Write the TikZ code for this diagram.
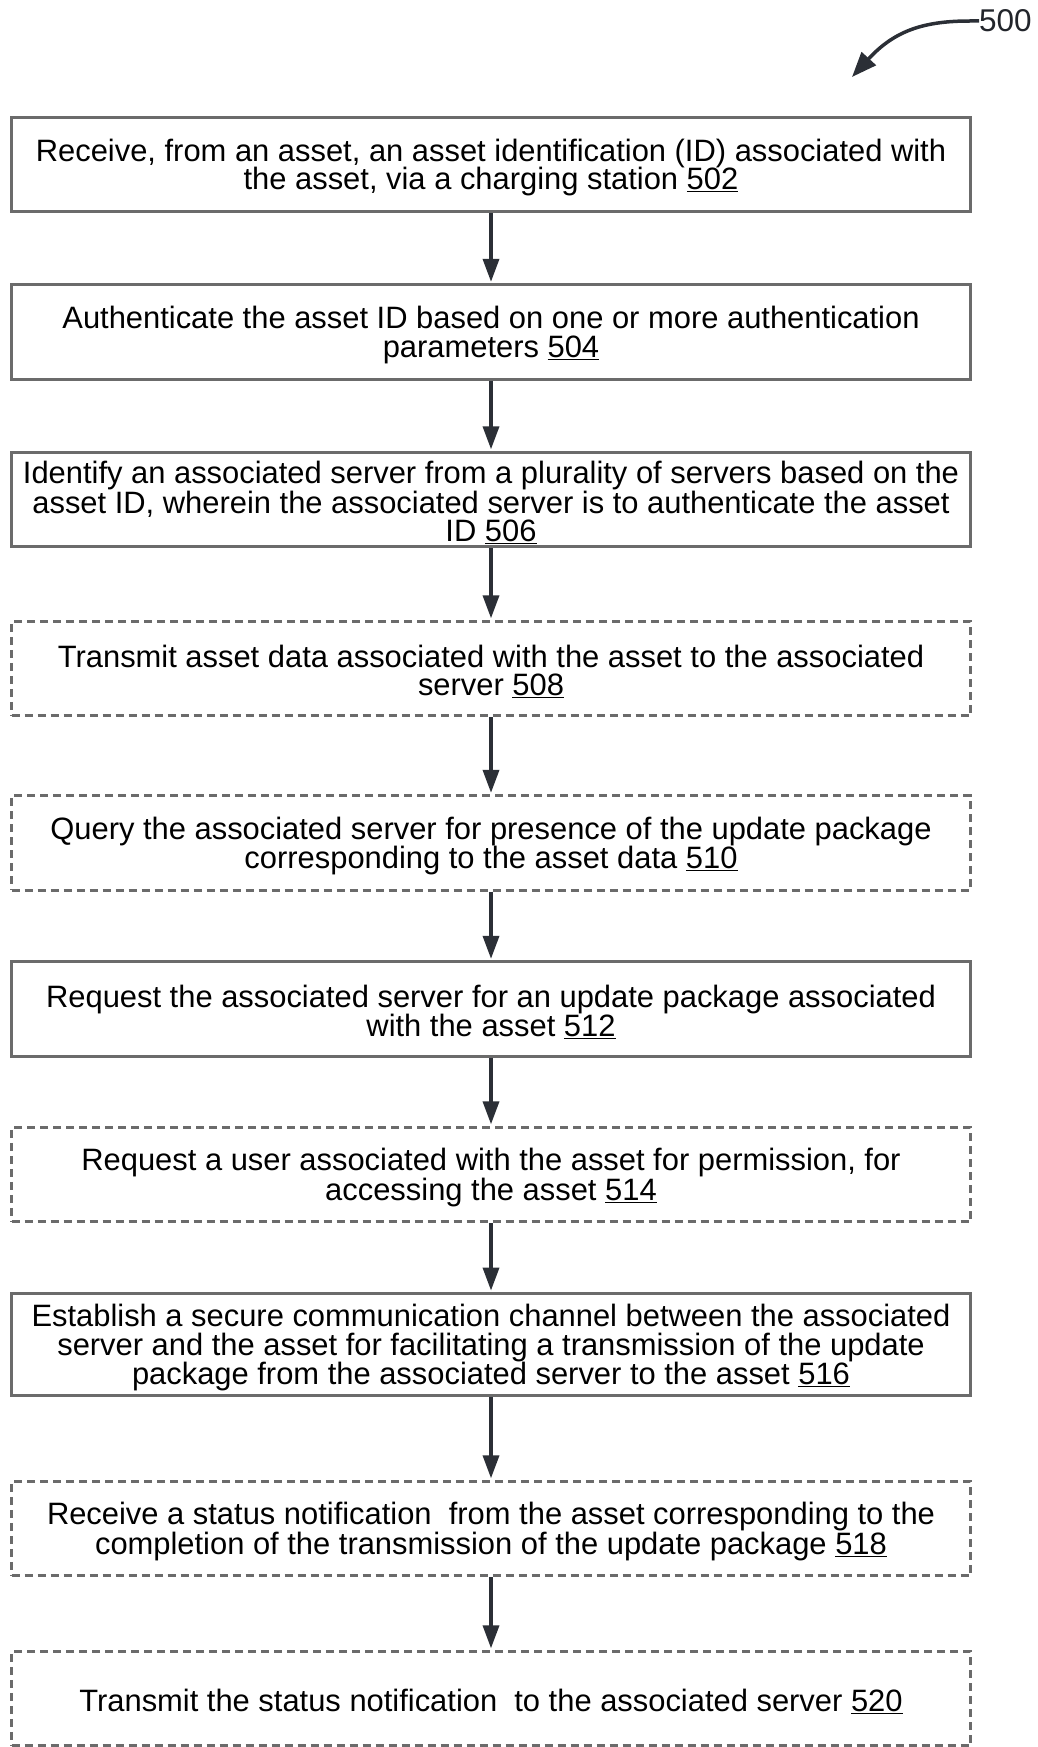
\documentclass[tikz,border=0pt]{standalone}
\usepackage{fontspec}
\setmainfont{Liberation Sans}
\usetikzlibrary{arrows.meta}
\definecolor{boxgray}{HTML}{6B6B6B}
\definecolor{arrowdark}{HTML}{2B2F36}
\begin{document}
\begin{tikzpicture}[x=1pt,y=-1pt,
  stepbox/.style={draw=boxgray, line width=2.8pt, minimum width=959pt, minimum height=94.5pt, inner sep=0pt},
  optbox/.style={stepbox, dash pattern=on 8pt off 5pt},
  steptext/.style={inner sep=0pt, align=center, font=\fontsize{30.9}{28.8}\selectfont, text=black, yshift=-3pt},
  flow/.style={draw=arrowdark, line width=3.5pt, -{Triangle[length=23pt,width=16pt]}, shorten >=1.5pt}
]
\useasboundingbox (0,0) rectangle (1037,1747);
\node[stepbox] (b1) at (491,164.5) {};
\node[steptext] (t1) at (b1.center) {Receive, from an asset, an asset identification (ID) associated with\\the asset, via a charging station \underline{502}};
\node[stepbox] (b2) at (491,332) {};
\node[steptext] (t2) at (b2.center) {Authenticate the asset ID based on one or more authentication\\parameters \underline{504}};
\node[stepbox] (b3) at (491,499.5) {};
\node[steptext] (t3) at (b3.center) {Identify an associated server from a plurality of servers based on the\\asset ID, wherein the associated server is to authenticate the asset\\ID \underline{506}};
\node[optbox] (b4) at (491,668.5) {};
\node[steptext] (t4) at (b4.center) {Transmit asset data associated with the asset to the associated\\server \underline{508}};
\node[optbox] (b5) at (491,843) {};
\node[steptext] (t5) at (b5.center) {Query the associated server for presence of the update package\\corresponding to the asset data \underline{510}};
\node[stepbox] (b6) at (491,1009) {};
\node[steptext] (t6) at (b6.center) {Request the associated server for an update package associated\\with the asset \underline{512}};
\node[optbox] (b7) at (491,1174.5) {};
\node[steptext] (t7) at (b7.center) {Request a user associated with the asset for permission, for\\accessing the asset \underline{514}};
\node[stepbox, minimum height=102pt] (b8) at (491,1344.5) {};
\node[steptext] (t8) at (b8.center) {Establish a secure communication channel between the associated\\server and the asset for facilitating a transmission of the update\\package from the associated server to the asset \underline{516}};
\node[optbox] (b9) at (491,1528.5) {};
\node[steptext] (t9) at (b9.center) {Receive a status notification\ \ from the asset corresponding to the\\completion of the transmission of the update package \underline{518}};
\node[optbox] (b10) at (491,1698.5) {};
\node[steptext] (t10) at (b10.center) {Transmit the status notification\ \ to the associated server \underline{520}};
\foreach \a/\b in {b1/b2,b2/b3,b3/b4,b4/b5,b5/b6,b6/b7,b7/b8,b8/b9,b9/b10}
  \draw[flow] (\a.south) -- (\b.north);
\node[anchor=west, inner sep=0pt, font=\fontsize{31.5}{31.5}\selectfont, text=arrowdark!80!black] (lbl) at (979,21) {500};
\coordinate (tip) at (852,77);
\draw[draw=arrowdark, line width=3.5pt, -{Triangle[length=25pt,width=19pt]}] (lbl.west) -- ++(-9,0) .. controls (925,21) and (895,30) .. (tip);
\end{tikzpicture}
\end{document}
